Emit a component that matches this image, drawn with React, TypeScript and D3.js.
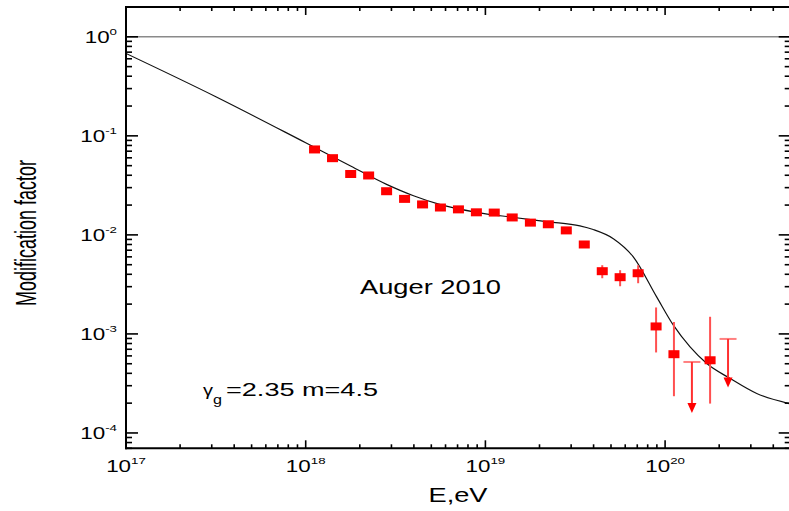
import React from "react";
import * as d3 from "d3";

// Auger 2010 data (modification factor vs energy)
const energy = [
  1.12e18, 1.41e18, 1.78e18, 2.24e18, 2.82e18, 3.55e18, 4.47e18, 5.62e18,
  7.08e18, 8.91e18, 1.12e19, 1.41e19, 1.78e19, 2.24e19, 2.82e19, 3.55e19,
  4.47e19, 5.62e19, 7.08e19, 8.91e19, 1.12e20, 1.78e20,
];
const factor = [
  0.0729, 0.0595, 0.0412, 0.0398, 0.0276, 0.0231, 0.0203, 0.0189, 0.0181,
  0.0169, 0.0168, 0.015, 0.0133, 0.0128, 0.0111, 0.008, 0.0043, 0.00374,
  0.0041, 0.00119, 0.000624, 0.000542,
];
// error bars (null = smaller than the marker)
const errHigh = [
  null, null, null, null, null, null, null, null, null, null, null, null, null,
  null, null, 0.0084, 0.00494, 0.0044, 0.00494, 0.00185, 0.00132, 0.00149,
];
const errLow = [
  null, null, null, null, null, null, null, null, null, null, null, null, null,
  null, null, 0.0076, 0.00365, 0.00303, 0.00325, 0.00065, 0.000235, 0.000198,
];

// upper limits
const limitEnergy = [1.41e20, 2.24e20];
const limitTop = [0.000521, 0.00089];
const limitTip = [0.000159, 0.000288];

// model curve, gamma_g = 2.35, m = 4.5 (log10 E, log10 factor)
const curveLgE = [
  17.0, 17.5, 18.0, 18.25, 18.45, 18.6, 18.75, 18.95, 19.15, 19.35, 19.526,
  19.6, 19.712, 19.823, 19.953, 20.046, 20.139, 20.232, 20.362, 20.51, 20.69,
];
const curveLgM = [
  -0.168, -0.605, -1.07, -1.305, -1.49, -1.605, -1.695, -1.772, -1.822,
  -1.868, -1.909, -1.946, -2.038, -2.222, -2.626, -2.912, -3.131, -3.299,
  -3.45, -3.602, -3.703,
];

const font = "'Liberation Sans', Arial, sans-serif";

const W = 789;
const H = 511;
const left = 126;
const right = 790.7;
const top = 7;
const bottom = 448.3;

export default function App() {
  const x = d3.scaleLog().domain([1e17, 5e20]).range([left, right]);
  const y = d3.scaleLog().domain([7e-5, 2]).range([bottom, top]);

  const xTicks = x.ticks();
  const yTicks = y.ticks();
  const isMajor = (v: number) => Math.abs(Math.log10(v) - Math.round(Math.log10(v))) < 1e-6;

  const line = d3
    .line<number>()
    .x((d, i) => x(Math.pow(10, curveLgE[i])))
    .y((d) => y(Math.pow(10, d)))
    .curve(d3.curveMonotoneX);

  return (
    <svg
      width={W}
      height={H}
      style={{ position: "fixed", left: 0, top: 0, background: "#fff" }}
      fontFamily={font}
    >
      <defs>
        <clipPath id="plot">
          <rect x={left} y={top} width={right - left} height={bottom - top} />
        </clipPath>
      </defs>

      {/* reference line at 1 */}
      <line x1={left} x2={right} y1={y(1)} y2={y(1)} stroke="#8a8a8a" strokeWidth={1.6} />

      {/* model curve */}
      <path d={line(curveLgM) || ""} fill="none" stroke="#111" strokeWidth={1.2} clipPath="url(#plot)" />

      {/* error bars */}
      {energy.map((e, i) =>
        errHigh[i] == null ? null : (
          <line
            key={"e" + i}
            x1={x(e)}
            x2={x(e)}
            y1={y(errHigh[i] as number)}
            y2={y(errLow[i] as number)}
            stroke="#ff5050"
            strokeWidth={2}
          />
        )
      )}

      {/* upper limits */}
      {limitEnergy.map((e, i) => {
        const cx = x(e);
        const y0 = y(limitTop[i]);
        const y1 = y(limitTip[i]);
        return (
          <g key={"u" + i}>
            <line x1={cx - 8.5} x2={cx + 8.5} y1={y0} y2={y0} stroke="#ff8080" strokeWidth={2} />
            <line x1={cx} x2={cx} y1={y0} y2={y1 - 9} stroke="#ff3030" strokeWidth={2} />
            <path d={`M${cx - 4.5},${y1 - 10}L${cx + 4.5},${y1 - 10}L${cx},${y1}Z`} fill="#ff0000" />
          </g>
        );
      })}

      {/* data markers */}
      {energy.map((e, i) => (
        <rect key={"p" + i} x={x(e) - 5.5} y={y(factor[i]) - 4} width={11} height={8} fill="#ff0000" />
      ))}

      {/* frame */}
      <line x1={left} x2={left} y1={top - 1} y2={bottom + 1} stroke="#000" strokeWidth={2} />
      <line x1={left - 1} x2={right} y1={bottom} y2={bottom} stroke="#000" strokeWidth={2} />
      <line x1={left - 1} x2={right} y1={top} y2={top} stroke="#000" strokeWidth={2} />
      <line x1={right} x2={right} y1={top} y2={bottom} stroke="#000" strokeWidth={2} />

      {/* x ticks */}
      {xTicks.map((t, i) => {
        const len = isMajor(t) ? 8 : 4;
        return (
          <g key={"xt" + i}>
            <line x1={x(t)} x2={x(t)} y1={bottom} y2={bottom - len} stroke="#000" strokeWidth={1.6} />
            <line x1={x(t)} x2={x(t)} y1={top} y2={top + len} stroke="#000" strokeWidth={1.6} />
          </g>
        );
      })}
      {xTicks.filter(isMajor).map((t, i) => (
        <g key={"xl" + i} transform={`translate(${x(t)},471.5) scale(1.4,1)`}>
          <text textAnchor="middle" fontSize={16} fill="#000">
            10
            <tspan dy={-8} fontSize={9.5}>
              {Math.round(Math.log10(t))}
            </tspan>
          </text>
        </g>
      ))}

      {/* y ticks */}
      {yTicks.map((t, i) => {
        const len = isMajor(t) ? 12 : 6;
        return (
          <g key={"yt" + i}>
            <line x1={left} x2={left + len} y1={y(t)} y2={y(t)} stroke="#000" strokeWidth={1.6} />
            <line x1={right} x2={right - len} y1={y(t)} y2={y(t)} stroke="#000" strokeWidth={1.6} />
          </g>
        );
      })}
      {yTicks.filter(isMajor).map((t, i) => (
        <g key={"yl" + i} transform={`translate(117,${y(t) + 6.5}) scale(1.4,1)`}>
          <text textAnchor="end" fontSize={16} fill="#000">
            10
            <tspan dy={-8} fontSize={9.5}>
              {Math.round(Math.log10(t))}
            </tspan>
          </text>
        </g>
      ))}

      {/* axis titles */}
      <text x={458} y={502} textAnchor="middle" fontSize={19.5} textLength={59} lengthAdjust="spacingAndGlyphs">
        E,eV
      </text>
      <text
        transform="translate(35.5,233) rotate(-90)"
        textAnchor="middle"
        fontSize={30}
        textLength={146}
        lengthAdjust="spacingAndGlyphs"
      >
        Modification factor
      </text>

      {/* annotations */}
      <text x={360} y={293.5} fontSize={19.5} textLength={141} lengthAdjust="spacingAndGlyphs">
        Auger 2010
      </text>
      <text x={203} y={396} fontSize={17} textLength={10} lengthAdjust="spacingAndGlyphs">
        γ
      </text>
      <text x={213} y={404} fontSize={12} textLength={9} lengthAdjust="spacingAndGlyphs">
        g
      </text>
      <text x={226} y={395.5} fontSize={18} textLength={152} lengthAdjust="spacingAndGlyphs">
        =2.35 m=4.5
      </text>
    </svg>
  );
}
